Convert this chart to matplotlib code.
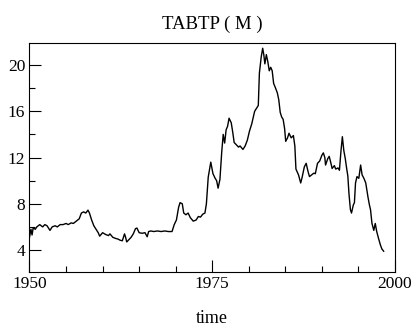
import matplotlib
matplotlib.use("Agg")
import matplotlib.pyplot as plt
from matplotlib.ticker import MultipleLocator

plt.rcParams['font.family'] = 'Liberation Serif'

# TABTP (M) monthly series
years = [1950.0, 1950.2, 1950.35, 1950.5, 1950.8, 1951.0, 1951.4, 1951.8, 1952.1, 1952.4,
         1952.8, 1953.1, 1953.5, 1953.8, 1954.2, 1954.6, 1955.0, 1955.3, 1955.7, 1956.0,
         1956.4, 1956.8, 1957.1, 1957.4, 1957.7, 1958.0, 1958.2, 1958.5, 1958.8, 1959.1,
         1959.4, 1959.6, 1960.0, 1960.4, 1960.8, 1961.0, 1961.4, 1961.8, 1962.1, 1962.4,
         1962.7, 1963.0, 1963.15, 1963.3, 1963.6, 1963.9, 1964.2, 1964.5, 1964.7, 1965.0,
         1965.4, 1965.8, 1966.1, 1966.3, 1966.6, 1967.0, 1967.5, 1968.0, 1968.5, 1969.0,
         1969.5, 1969.8, 1970.1, 1970.4, 1970.6, 1970.9, 1971.1, 1971.4, 1971.7, 1972.0,
         1972.4, 1972.8, 1973.1, 1973.4, 1973.7, 1974.0, 1974.2, 1974.45, 1974.8, 1975.1,
         1975.4, 1975.6, 1975.8, 1976.05, 1976.3, 1976.5, 1976.7, 1976.9, 1977.1, 1977.3,
         1977.6, 1977.8, 1978.0, 1978.3, 1978.6, 1978.8, 1979.2, 1979.5, 1979.8, 1980.1,
         1980.4, 1980.8, 1981.1, 1981.3, 1981.45, 1981.7, 1981.9, 1982.05, 1982.2, 1982.4,
         1982.6, 1982.8, 1983.0, 1983.2, 1983.4, 1983.6, 1983.9, 1984.1, 1984.3, 1984.5,
         1984.7, 1984.9, 1985.05, 1985.3, 1985.5, 1985.8, 1986.1, 1986.3, 1986.45, 1986.8,
         1987.1, 1987.3, 1987.6, 1987.85, 1988.1, 1988.3, 1988.6, 1988.9, 1989.1, 1989.4,
         1989.7, 1990.0, 1990.2, 1990.4, 1990.5, 1990.8, 1991.0, 1991.2, 1991.4, 1991.7,
         1991.9, 1992.2, 1992.4, 1992.6, 1992.8, 1993.0, 1993.2, 1993.4, 1993.55, 1993.7,
         1993.9, 1994.05, 1994.3, 1994.45, 1994.6, 1994.8, 1995.05, 1995.3, 1995.5, 1995.75,
         1996.0, 1996.3, 1996.5, 1996.65, 1996.85, 1997.1, 1997.3, 1997.5, 1997.75, 1998.0,
         1998.2, 1998.45]
values = [5.1, 5.8, 5.3, 5.9, 5.8, 6.0, 6.2, 6.0, 6.2, 6.1,
          5.7, 6.0, 6.1, 6.0, 6.2, 6.2, 6.3, 6.2, 6.35, 6.3,
          6.5, 6.7, 7.2, 7.3, 7.2, 7.45, 7.2, 6.6, 6.1, 5.8,
          5.5, 5.2, 5.5, 5.35, 5.25, 5.4, 5.1, 5.0, 4.95, 4.85,
          4.8, 5.4, 5.1, 4.7, 4.9, 5.1, 5.4, 5.85, 5.9, 5.5,
          5.45, 5.5, 5.15, 5.6, 5.65, 5.6, 5.65, 5.6, 5.65, 5.6,
          5.6, 6.2, 6.6, 7.7, 8.1, 8.0, 7.2, 7.05, 7.2, 6.8,
          6.5, 6.6, 6.9, 6.85, 7.1, 7.2, 8.0, 10.3, 11.6, 10.6,
          10.2, 10.0, 9.35, 10.1, 12.5, 14.0, 13.25, 14.4, 14.7, 15.4,
          15.0, 14.2, 13.3, 13.1, 12.9, 13.0, 12.7, 13.0, 13.5, 14.3,
          14.9, 16.0, 16.3, 16.5, 19.3, 20.7, 21.45, 20.9, 20.1, 20.9,
          20.3, 19.5, 19.8, 19.5, 18.4, 18.1, 17.6, 17.0, 15.9, 15.5,
          15.3, 14.5, 13.4, 13.7, 14.1, 13.7, 13.9, 13.0, 11.0, 10.5,
          9.8, 10.3, 11.2, 11.5, 10.8, 10.35, 10.5, 10.65, 10.6, 11.5,
          11.7, 12.2, 12.4, 12.0, 11.35, 11.9, 12.1, 11.6, 11.05, 11.3,
          11.0, 11.1, 10.9, 12.5, 13.8, 12.6, 11.9, 11.0, 10.4, 8.9,
          7.5, 7.2, 7.9, 8.1, 9.8, 10.35, 10.2, 11.35, 10.5, 10.2,
          9.8, 8.6, 7.9, 7.5, 6.3, 5.7, 6.3, 5.6, 5.0, 4.45,
          4.1, 3.9]

fig = plt.figure(figsize=(4.16, 3.31), dpi=100)
ax = fig.add_axes([0.0709, 0.1782, 0.8786, 0.6918])

ax.plot(years, values, color='black', linewidth=1.0)

ax.set_xlim(1950, 2000)
ax.set_ylim(2.1, 21.9)
ax.xaxis.set_major_locator(MultipleLocator(25))
ax.xaxis.set_minor_locator(MultipleLocator(5))
ax.yaxis.set_major_locator(MultipleLocator(4))
ax.yaxis.set_minor_locator(MultipleLocator(2))
ax.tick_params(which='both', direction='in', top=False, right=False,
               labelsize=12.5, color='black')
ax.tick_params(which='major', length=8.6, width=0.8, pad=3)
ax.tick_params(which='minor', length=4.3, width=0.8)
for s in ax.spines.values():
    s.set_linewidth(0.8)

ax.set_title('TABTP ( M )', fontsize=13.5, pad=10)
ax.set_xlabel('time', fontsize=13, labelpad=13)

fig.savefig('out.png', dpi=100)
